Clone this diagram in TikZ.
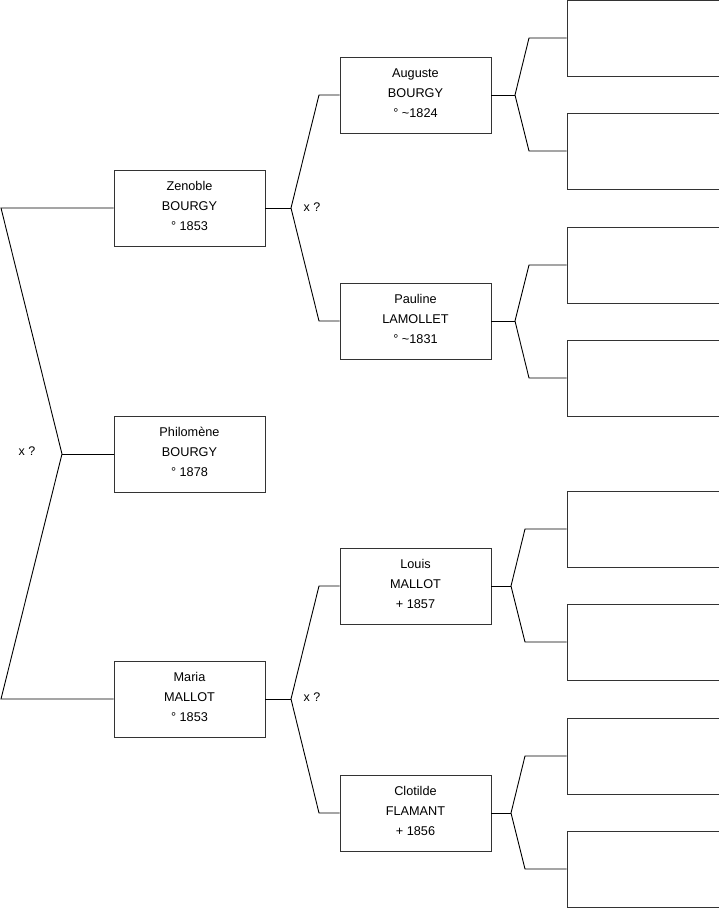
\documentclass[tikz,border=0pt]{standalone}
\usepackage{fontspec}
\setmainfont{Liberation Sans}
\usetikzlibrary{positioning}

\begin{document}
\begin{tikzpicture}[
    x=1pt, y=-1pt,
    person/.style={rectangle, draw=black!80, line width=0.9pt, fill=white, minimum width=151pt, minimum height=76pt, inner sep=0pt, text depth=4pt, align=center, font=\fontsize{12.7}{20}\selectfont},
    blank/.style={person, minimum width=152pt},
    link/.style={draw=black, line width=0.9pt},
    union/.style={inner sep=0pt, font=\fontsize{12.5}{15}\selectfont}
]
\useasboundingbox (0,0) rectangle (719,908);

% Generation 1
\node[person] (philomene) at (189.5,454) {Philomène\\BOURGY\\° 1878};

% Generation 2
\node[person] (zenoble) at (189.5,208) {Zenoble\\BOURGY\\° 1853};
\node[person] (maria) at (189.5,699) {Maria\\MALLOT\\° 1853};

% Generation 3
\node[person] (auguste) at (415.5,95) {Auguste\\BOURGY\\° \textasciitilde1824};
\node[person] (pauline) at (415.5,321) {Pauline\\LAMOLLET\\° \textasciitilde1831};
\node[person] (louis) at (415.5,586) {Louis\\MALLOT\\+ 1857};
\node[person] (clotilde) at (415.5,813) {Clotilde\\FLAMANT\\+ 1856};

% Generation 4 (unknown)
\node[blank] (aug1) at (643,38) {};
\node[blank] (aug2) at (643,151) {};
\node[blank] (pau1) at (643,265) {};
\node[blank] (pau2) at (643,378) {};
\node[blank] (lou1) at (643,529) {};
\node[blank] (lou2) at (643,642) {};
\node[blank] (clo1) at (643,756) {};
\node[blank] (clo2) at (643,869) {};

% Fork points
\coordinate (top0) at (1,208);
\coordinate (fork0) at (62,454);
\coordinate (bot0) at (1,699);

\coordinate (fork1) at (291,208);
\coordinate (top1) at (319,95);
\coordinate (bot1) at (319,321);

\coordinate (fork2) at (291,699);
\coordinate (top2) at (319,586);
\coordinate (bot2) at (319,813);

\coordinate (forkA) at (515,95);
\coordinate (topA) at (529,38);
\coordinate (botA) at (529,151);

\coordinate (forkP) at (515,321);
\coordinate (topP) at (529,265);
\coordinate (botP) at (529,378);

\coordinate (forkL) at (511,586);
\coordinate (topL) at (525,529);
\coordinate (botL) at (525,642);

\coordinate (forkC) at (511,813);
\coordinate (topC) at (525,756);
\coordinate (botC) at (525,869);

% Parents of Philomene
\draw[link] (zenoble.west) -- (top0) -- (fork0) -- (bot0) -- (maria.west);
\draw[link] (fork0) -- (philomene.west);
\node[union] (u0) at (27,451) {x ?};

% Parents of Zenoble
\draw[link] (zenoble.east) -- (fork1);
\draw[link] (auguste.west) -- (top1) -- (fork1) -- (bot1) -- (pauline.west);
\node[union] (u1) at (312,207) {x ?};

% Parents of Maria
\draw[link] (maria.east) -- (fork2);
\draw[link] (louis.west) -- (top2) -- (fork2) -- (bot2) -- (clotilde.west);
\node[union] (u2) at (312,697) {x ?};

% Generation 4 links
\draw[link] (auguste.east) -- (forkA);
\draw[link] (aug1.west) -- (topA) -- (forkA) -- (botA) -- (aug2.west);
\draw[link] (pauline.east) -- (forkP);
\draw[link] (pau1.west) -- (topP) -- (forkP) -- (botP) -- (pau2.west);
\draw[link] (louis.east) -- (forkL);
\draw[link] (lou1.west) -- (topL) -- (forkL) -- (botL) -- (lou2.west);
\draw[link] (clotilde.east) -- (forkC);
\draw[link] (clo1.west) -- (topC) -- (forkC) -- (botC) -- (clo2.west);

\end{tikzpicture}
\end{document}
